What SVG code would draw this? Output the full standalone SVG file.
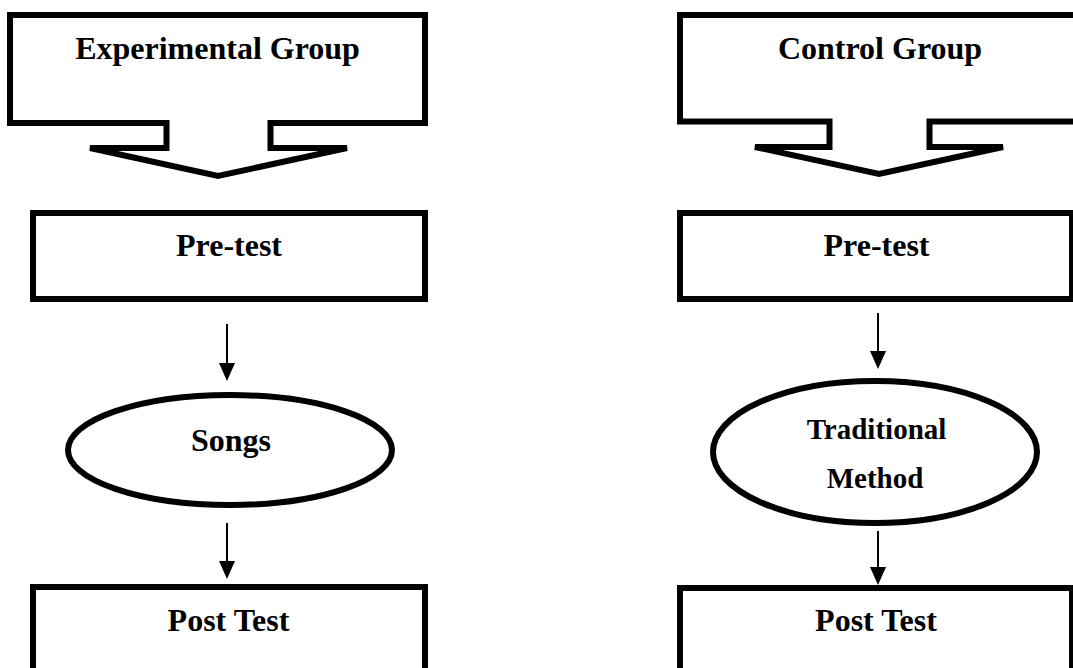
<svg xmlns="http://www.w3.org/2000/svg" width="1073" height="668" viewBox="0 0 1073 668">
  <style>
    .shape { fill: #ffffff; stroke: #000000; stroke-width: 6; }
    .lbl { font-family: "Liberation Serif", "Times New Roman", serif; font-weight: bold; font-size: 32px; fill: #000000; text-anchor: middle; }
    .lbl-sm { font-size: 29px; }
    .conn { stroke: #000000; stroke-width: 2; fill: none; marker-end: url(#arrow); }
  </style>
  <defs>
    <marker id="arrow" markerUnits="userSpaceOnUse" viewBox="0 0 18 16" markerWidth="18" markerHeight="16" refX="12" refY="8" orient="auto">
      <path d="M0,0 L18,8 L0,16 Z" fill="#000000"/>
    </marker>
  </defs>
  <rect x="0" y="0" width="1073" height="668" fill="#ffffff"/>

  <g id="experimental-group">
    <path class="shape" d="M10,15 H425 V123 H270.5 V148 H347 L218,176 L90,148 H166.5 V123 H10 Z"/>
    <text class="lbl" x="217.5" y="59">Experimental Group</text>
  </g>
  <g id="control-group">
    <path class="shape" d="M680,15 H1080 V121.5 H929.5 V147 H1003 L879,174 L755,147 H829.5 V121.5 H680 Z"/>
    <text class="lbl" x="880" y="59">Control Group</text>
  </g>

  <g id="pretest-left">
    <rect class="shape" x="33" y="213" width="392" height="86"/>
    <text class="lbl" x="229" y="256">Pre-test</text>
  </g>
  <g id="pretest-right">
    <rect class="shape" x="680" y="213" width="392" height="86"/>
    <text class="lbl" x="876.5" y="256">Pre-test</text>
  </g>

  <g id="songs">
    <ellipse class="shape" cx="230" cy="450" rx="162" ry="55"/>
    <text class="lbl" x="231" y="451">Songs</text>
  </g>
  <g id="traditional-method">
    <ellipse class="shape" cx="875" cy="452" rx="162" ry="71"/>
    <text class="lbl lbl-sm" x="876.5" y="439">Traditional</text>
    <text class="lbl lbl-sm" x="875" y="488">Method</text>
  </g>

  <g id="posttest-left">
    <rect class="shape" x="33" y="587" width="392" height="110"/>
    <text class="lbl" x="228.5" y="631">Post Test</text>
  </g>
  <g id="posttest-right">
    <rect class="shape" x="680" y="588" width="392" height="110"/>
    <text class="lbl" x="876" y="631">Post Test</text>
  </g>

  <g id="connectors">
    <line class="conn" x1="227" y1="324" x2="227" y2="375"/>
    <line class="conn" x1="227" y1="523" x2="227" y2="573"/>
    <line class="conn" x1="878" y1="313" x2="878" y2="363"/>
    <line class="conn" x1="878" y1="531" x2="878" y2="579"/>
  </g>
</svg>
